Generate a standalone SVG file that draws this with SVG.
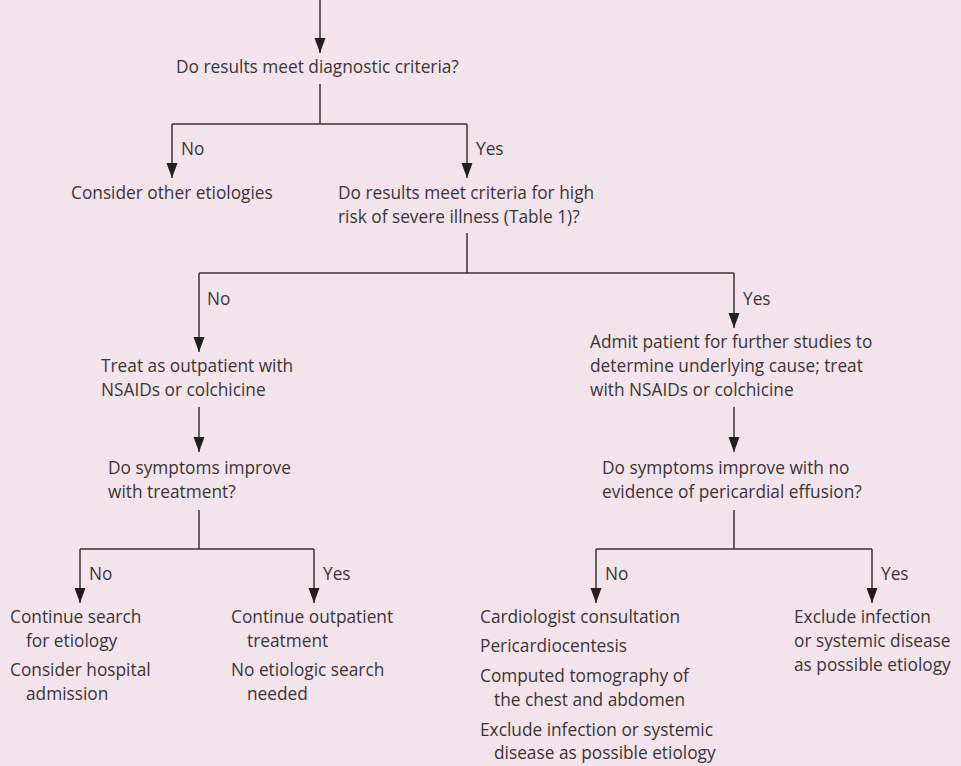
<svg xmlns="http://www.w3.org/2000/svg" width="961" height="766" viewBox="0 0 961 766">
<defs>
<marker id="ah" markerUnits="userSpaceOnUse" markerWidth="15" markerHeight="12" refX="15" refY="5.5" orient="auto">
<path d="M0,0 L15,5.5 L0,11 z" fill="#231f20"/>
</marker>
<style>
text{font-family:"Open Sans","Liberation Sans",Arial,sans-serif;font-size:17.3px;fill:#3a3536}
.c{fill:none;stroke:#3a3536;stroke-width:1.5}
.a{marker-end:url(#ah)}
</style>
</defs>
<rect width="961" height="766" fill="#f3e4ec"/>
<g id="connectors">
<path class="c a" d="M320,0 V53"/>
<path class="c" d="M320,84 V124 M172,124 H467"/>
<path class="c a" d="M172,124 V178"/>
<path class="c a" d="M467,124 V178"/>
<path class="c" d="M467,233 V273 M199,273 H734"/>
<path class="c a" d="M199,273 V352"/>
<path class="c a" d="M734,273 V328"/>
<path class="c a" d="M199,407 V452"/>
<path class="c a" d="M734,407 V452"/>
<path class="c" d="M199,510 V549 M80,549 H314"/>
<path class="c a" d="M80,549 V603"/>
<path class="c a" d="M314,549 V603"/>
<path class="c" d="M734,510 V549 M596,549 H872"/>
<path class="c a" d="M596,549 V603"/>
<path class="c a" d="M872,549 V603"/>
</g>
<g id="labels">
<text x="181" y="155">No</text>
<text x="476" y="155">Yes</text>
<text x="207" y="305">No</text>
<text x="743" y="305">Yes</text>
<text x="89" y="580">No</text>
<text x="323" y="580">Yes</text>
<text x="605" y="580">No</text>
<text x="881" y="580">Yes</text>
</g>
<g id="n1"><text x="176" y="73">Do results meet diagnostic criteria?</text></g>
<g id="n2"><text x="71" y="199">Consider other etiologies</text></g>
<g id="n3"><text x="338" y="199">Do results meet criteria for high</text><text x="338" y="223">risk of severe illness (Table 1)?</text></g>
<g id="n4"><text x="101" y="372">Treat as outpatient with</text><text x="101" y="396">NSAIDs or colchicine</text></g>
<g id="n5"><text x="590" y="348">Admit patient for further studies to</text><text x="590" y="372">determine underlying cause; treat</text><text x="590" y="396">with NSAIDs or colchicine</text></g>
<g id="n6"><text x="108" y="474">Do symptoms improve</text><text x="108" y="498">with treatment?</text></g>
<g id="n7"><text x="602" y="474">Do symptoms improve with no</text><text x="602" y="498">evidence of pericardial effusion?</text></g>
<g id="n8"><text x="10" y="623">Continue search</text><text x="26" y="647">for etiology</text><text x="10" y="676">Consider hospital</text><text x="26" y="700">admission</text></g>
<g id="n9"><text x="231" y="623">Continue outpatient</text><text x="247" y="647">treatment</text><text x="231" y="676">No etiologic search</text><text x="247" y="700">needed</text></g>
<g id="n10"><text x="480" y="623">Cardiologist consultation</text><text x="480" y="652">Pericardiocentesis</text><text x="480" y="682">Computed tomography of</text><text x="494" y="706">the chest and abdomen</text><text x="480" y="736">Exclude infection or systemic</text><text x="494" y="759">disease as possible etiology</text></g>
<g id="n11"><text x="794" y="623">Exclude infection</text><text x="794" y="647">or systemic disease</text><text x="794" y="671">as possible etiology</text></g>
</svg>
